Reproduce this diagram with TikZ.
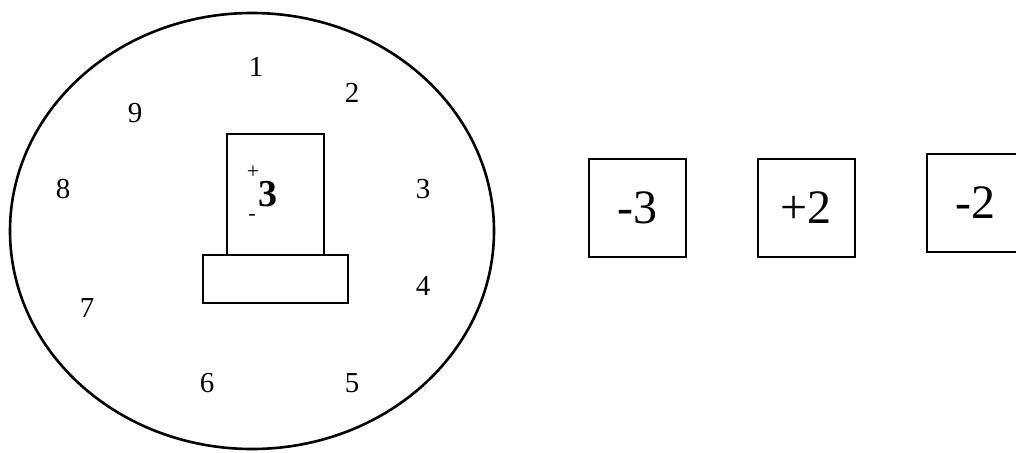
\documentclass[tikz,border=0pt]{standalone}
\usepackage{fontspec}
\setmainfont{Liberation Serif}
\begin{document}
\begin{tikzpicture}[x=1pt,y=-1pt,
  num/.style={font=\fontsize{29}{31}\selectfont, inner sep=0pt},
  card/.style={draw, line width=2pt, minimum width=97pt, minimum height=98pt, inner sep=0pt, font=\fontsize{48}{50}\selectfont},
  box/.style={draw, line width=1.9pt, inner sep=0pt}]
\useasboundingbox (0,0) rectangle (1016,452);
\clip (0,0) rectangle (1016,452);
\fill[white] (0,0) rectangle (1016,452);
% big ellipse
\draw[line width=2.6pt] (252,231) ellipse [x radius=242, y radius=218];
% numbers
\node[num] (n1) at (256,67) {1};
\node[num] (n2) at (352,93) {2};
\node[num] (n3) at (423,189) {3};
\node[num] (n4) at (423,286) {4};
\node[num] (n5) at (352,383) {5};
\node[num] (n6) at (207,383) {6};
\node[num] (n7) at (87,308) {7};
\node[num] (n8) at (63,189) {8};
\node[num] (n9) at (135,113) {9};
% tall box and base
\node[box, minimum width=97pt, minimum height=121pt] (tall) at (275.5,194.5) {};
\node[box, minimum width=145pt, minimum height=48pt] (base) at (275.5,279) {};
\node[inner sep=0pt, font=\fontsize{22}{22}\selectfont] (plus) at (253,172) {+};
\node[inner sep=0pt, font=\fontsize{38}{40}\selectfont\bfseries] (three) at (268,194) {3};
\node[inner sep=0pt, font=\fontsize{22}{22}\selectfont] (minus) at (252,217) {-};
% cards
\node[card] (c1) at (637,207.5) {-3};
\node[card] (c2) at (806,207.5) {+2};
\node[card] (c3) at (975,203) {-2};
\end{tikzpicture}
\end{document}
